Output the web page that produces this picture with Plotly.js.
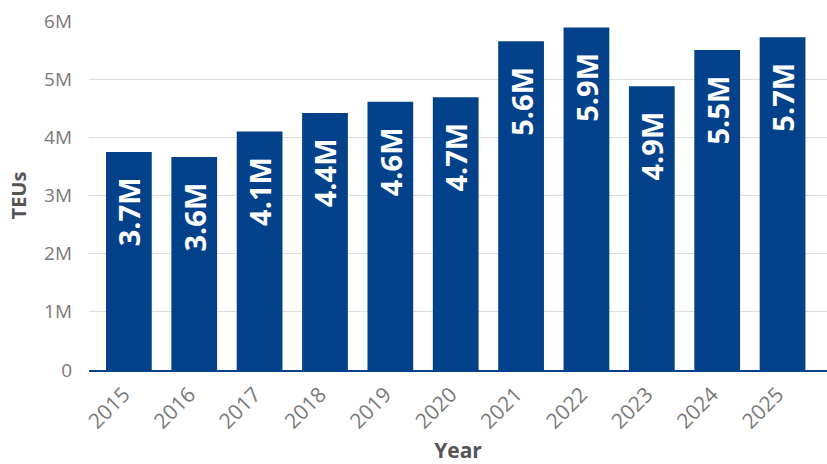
<!DOCTYPE html>
<html>
<head>
<meta charset="utf-8">
<script src="https://cdn.plot.ly/plotly-3.0.1.min.js"></script>
<style>html,body{margin:0;padding:0;background:#fff;}#chart{width:827px;height:464px;}</style>
</head>
<body>
<div id="chart"></div>
<script>
const years = ['2015','2016','2017','2018','2019','2020','2021','2022','2023','2024','2025'];
const teus = [3.75, 3.66, 4.10, 4.42, 4.61, 4.69, 5.65, 5.89, 4.88, 5.50, 5.72];
const valueLabels = ['3.7M','3.6M','4.1M','4.4M','4.6M','4.7M','5.6M','5.9M','4.9M','5.5M','5.7M'];
const yTickVals = [0, 1, 2, 3, 4, 5, 6];
const yTickText = ['0','1M','2M','3M','4M','5M','6M'];

const pad = '\u00a0\u00a0\u00a0';
const trace = {
  type: 'bar',
  x: years,
  y: teus,
  text: valueLabels.map(t => t + pad),
  textposition: 'inside',
  insidetextanchor: 'end',
  textangle: -90,
  constraintext: 'none',
  textfont: {family: 'Open Sans', size: 29, color: '#ffffff', weight: 'bold'},
  marker: {color: '#04418b'},
  hoverinfo: 'none'
};

const layout = {
  width: 827, height: 464,
  margin: {l: 89, r: 0, t: 21, b: 94},
  paper_bgcolor: '#ffffff', plot_bgcolor: '#ffffff',
  bargap: 0.3,
  showlegend: false,
  font: {family: 'Open Sans', color: '#6b6b6b'},
  xaxis: {
    type: 'category',
    range: [-0.61, 10.68],
    tickangle: -45,
    tickfont: {size: 21, color: '#7a7a7a'},
    ticklabelstandoff: 2,
    ticklabelshift: -5,
    showgrid: false,
    showline: true, linecolor: '#04418b', linewidth: 2,
    zeroline: false,
    title: {text: 'Year', font: {size: 21, color: '#555555', weight: 'bold'}, standoff: 10}
  },
  yaxis: {
    range: [0, 6],
    tickvals: yTickVals,
    ticktext: yTickText,
    tickfont: {size: 19, color: '#7a7a7a'},
    ticklabelstandoff: 16,
    showgrid: true, gridcolor: '#dddddd', gridwidth: 1,
    zeroline: false,
    showline: false,
    title: {text: 'TEUs', font: {size: 20, color: '#555555', weight: 'bold'}, standoff: 12}
  }
};

Plotly.newPlot('chart', [trace], layout, {displayModeBar: false, staticPlot: true});
</script>
</body>
</html>
